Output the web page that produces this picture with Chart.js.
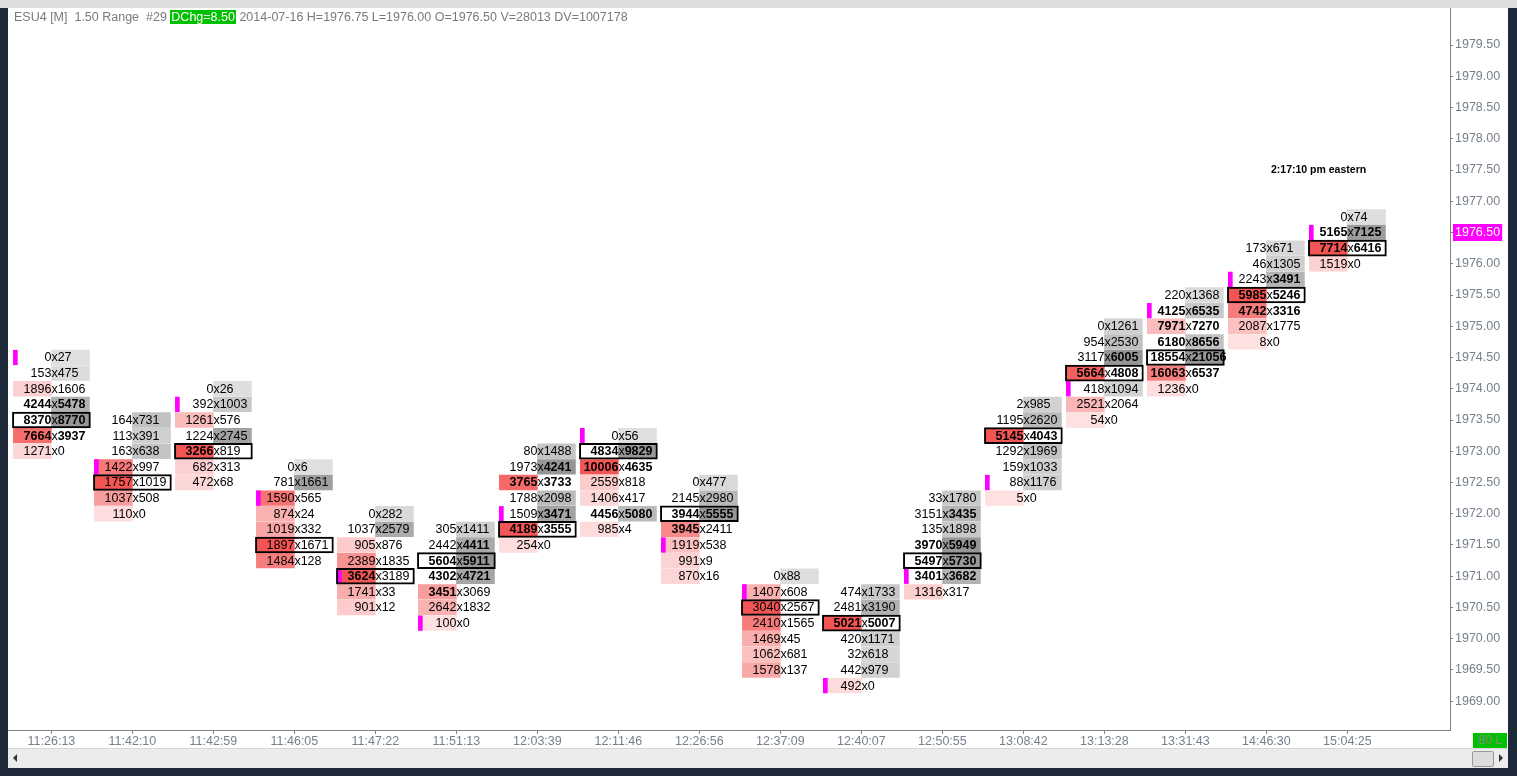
<!DOCTYPE html>
<html>
<head>
<meta charset="utf-8">
<script src="https://cdn.jsdelivr.net/npm/chart.js@4.4.1/dist/chart.umd.min.js"></script>
<style>
  html, body { margin: 0; padding: 0; }
  body { width: 1517px; height: 776px; position: relative; overflow: hidden; background: #1e2a3a; font-family: "Liberation Sans", Arial, sans-serif; }
  #top { position: absolute; left: 0; top: 0; width: 1517px; height: 8px; background: #dedede; }
  #panel { position: absolute; left: 8px; top: 8px; width: 1500px; height: 760px; background: #fff; }
  #wrap { position: absolute; left: 0; top: 0; width: 1500px; height: 740px; }
  #header { position: absolute; left: 6px; top: 2px; font-size: 12.5px; color: #7a7a7a; white-space: pre; line-height: 15px; }
  #header .chg { background: #00c000; color: #fff; padding: 0 1px; }
  #stamp { position: absolute; left: 1263px; top: 155px; font: bold 10.5px "Liberation Sans", Arial, sans-serif; color: #000; }
  #status { position: absolute; left: 1465px; top: 725px; width: 34px; height: 15px; background: #00c000; color: #8a8a8a; font-size: 12px; line-height: 15px; text-align: center; }
  #scroll { position: absolute; left: 0; top: 740px; width: 1500px; height: 20px; background: #ececec; border-top: 1px solid #d6d6d6; box-sizing: border-box; }
  #scroll .la { position: absolute; left: 5px; top: 5px; width: 0; height: 0; border-top: 4px solid transparent; border-bottom: 4px solid transparent; border-right: 4px solid #333; }
  #scroll .ra { position: absolute; right: 5px; top: 5px; width: 0; height: 0; border-top: 4px solid transparent; border-bottom: 4px solid transparent; border-left: 4px solid #333; }
  #scroll .thumb { position: absolute; right: 14px; top: 2px; width: 20px; height: 14px; background: #dcdcdc; border: 1px solid #9a9a9a; border-radius: 2px; }
</style>
</head>
<body>
<div id="top"></div>
<div id="panel">
  <div id="wrap"><canvas id="chart"></canvas></div>
  <div id="header">ESU4 [M]  1.50 Range  #29 <span class="chg">DChg=8.50</span> 2014-07-16 H=1976.75 L=1976.00 O=1976.50 V=28013 DV=1007178</div>
  <div id="stamp">2:17:10 pm eastern</div>
  <div id="status">80 L</div>
  <div id="scroll"><div class="la"></div><div class="thumb"></div><div class="ra"></div></div>
</div>
<script>
// bar times (x axis)
const times = ['11:26:13', '11:42:10', '11:42:59', '11:46:05', '11:47:22', '11:51:13', '12:03:39', '12:11:46', '12:26:56',
    '12:37:09', '12:40:07', '12:50:55', '13:08:42', '13:13:28', '13:31:43', '14:46:30', '15:04:25'];

// highest price of each bar, rows go down by one tick
const tickSize = 0.25;
const topPrices = [1974.50, 1973.50, 1974.00, 1972.75, 1972.00, 1971.75, 1973.00, 1973.25, 1972.50,
    1971.00, 1970.75, 1972.25, 1973.75, 1975.00, 1975.50, 1976.25, 1976.75];
const openPrices = [1974.50, 1972.75, 1973.75, 1972.25, 1971.00, 1970.25, 1972.00, 1973.25, 1971.50,
    1970.75, 1969.25, 1971.00, 1972.50, 1974.00, 1975.25, 1975.75, 1976.50];
const lastPrice = 1976.50;
const maxLabel = 1979.50;

const bids = [
    [0, 153, 1896, 4244, 8370, 7664, 1271],
    [164, 113, 163, 1422, 1757, 1037, 110],
    [0, 392, 1261, 1224, 3266, 682, 472],
    [0, 781, 1590, 874, 1019, 1897, 1484],
    [0, 1037, 905, 2389, 3624, 1741, 901],
    [305, 2442, 5604, 4302, 3451, 2642, 100],
    [80, 1973, 3765, 1788, 1509, 4189, 254],
    [0, 4834, 10006, 2559, 1406, 4456, 985],
    [0, 2145, 3944, 3945, 1919, 991, 870],
    [0, 1407, 3040, 2410, 1469, 1062, 1578],
    [474, 2481, 5021, 420, 32, 442, 492],
    [33, 3151, 135, 3970, 5497, 3401, 1316],
    [2, 1195, 5145, 1292, 159, 88, 5],
    [0, 954, 3117, 5664, 418, 2521, 54],
    [220, 4125, 7971, 6180, 18554, 16063, 1236],
    [173, 46, 2243, 5985, 4742, 2087, 8],
    [0, 5165, 7714, 1519]
];
const asks = [
    [27, 475, 1606, 5478, 8770, 3937, 0],
    [731, 391, 638, 997, 1019, 508, 0],
    [26, 1003, 576, 2745, 819, 313, 68],
    [6, 1661, 565, 24, 332, 1671, 128],
    [282, 2579, 876, 1835, 3189, 33, 12],
    [1411, 4411, 5911, 4721, 3069, 1832, 0],
    [1488, 4241, 3733, 2098, 3471, 3555, 0],
    [56, 9829, 4635, 818, 417, 5080, 4],
    [477, 2980, 5555, 2411, 538, 9, 16],
    [88, 608, 2567, 1565, 45, 681, 137],
    [1733, 3190, 5007, 1171, 618, 979, 0],
    [1780, 3435, 1898, 5949, 5730, 3682, 317],
    [985, 2620, 4043, 1969, 1033, 1176, 0],
    [1261, 2530, 6005, 4808, 1094, 2064, 0],
    [1368, 6535, 7270, 8656, 21056, 6537, 0],
    [671, 1305, 3491, 5246, 3316, 1775, 0],
    [74, 7125, 6416, 0]
];

const AXIS_GREY = '#76808c';
const FONT = '"Liberation Sans", Arial, sans-serif';

function mix(a, b, t) {
    t = Math.max(0, Math.min(1, t));
    return `rgb(${a.map((v, k) => Math.round(v + (b[k] - v) * t)).join(',')})`;
}
const redShade = t => mix([253, 224, 224], [243, 84, 84], Math.pow(t, 1.4));
const greyShade = t => mix([223, 223, 223], [150, 150, 150], t);

// build bar data from the arrays
const bidCells = [], askCells = [], pocCells = [], openMarks = [];
topPrices.forEach((top, i) => {
    const colMax = Math.max(...bids[i], ...asks[i]);
    let poc = 0, pocVol = -1;
    bids[i].forEach((b, j) => {
        const a = asks[i][j];
        const price = top - tickSize * j;
        if (b > a) bidCells.push({ x: i - 0.235, y: [price - 0.117, price + 0.117], t: b / colMax });
        if (a > b) askCells.push({ x: i + 0.235, y: [price - 0.117, price + 0.117], t: a / colMax });
        if (a + b > pocVol) { pocVol = a + b; poc = price; }
    });
    pocCells.push({ x: i, y: [poc - 0.128, poc + 0.128] });
    openMarks.push({ x: i - 0.445, y: [openPrices[i] - 0.117, openPrices[i] + 0.117] });
});

const textPlugin = {
    id: 'cellText',
    afterDatasetsDraw(chart) {
        const { ctx, scales: { x, y } } = chart;
        ctx.save();
        ctx.textBaseline = 'middle';
        ctx.fillStyle = '#000';
        const fontFor = v => (v >= 3200 ? 'bold ' : '') + '12.5px ' + FONT;
        topPrices.forEach((top, i) => {
            const cx = x.getPixelForValue(i);
            bids[i].forEach((b, j) => {
                const a = asks[i][j];
                const py = y.getPixelForValue(top - tickSize * j) + 0.5;
                ctx.textAlign = 'right';
                ctx.font = fontFor(b);
                ctx.fillText(String(b), cx, py);
                ctx.textAlign = 'left';
                ctx.font = '12.5px ' + FONT;
                ctx.fillText('x', cx, py);
                const xw = ctx.measureText('x').width;
                ctx.font = fontFor(a);
                ctx.fillText(String(a), cx + xw, py);
            });
        });
        ctx.restore();
    }
};

const barBase = { grouped: false, borderSkipped: false, borderWidth: 0 };

new Chart(document.getElementById('chart'), {
    type: 'bar',
    data: {
        datasets: [
            { ...barBase, label: 'POC', data: pocCells, barThickness: 78, backgroundColor: 'rgba(0,0,0,0)', borderColor: '#000', borderWidth: 1.3 },
            { ...barBase, label: 'Open', data: openMarks, barThickness: 4, backgroundColor: '#ff00ff' },
            { ...barBase, label: 'Bid', data: bidCells, barThickness: 38, backgroundColor: c => redShade(c.raw ? c.raw.t : 0) },
            { ...barBase, label: 'Ask', data: askCells, barThickness: 38, backgroundColor: c => greyShade(c.raw ? c.raw.t : 0) }
        ]
    },
    options: {
        responsive: true,
        maintainAspectRatio: false,
        animation: false,
        layout: { padding: 0 },
        plugins: { legend: { display: false }, tooltip: { enabled: false } },
        scales: {
            x: {
                type: 'linear',
                offset: false,
                min: -0.536,
                max: 17.267,
                afterBuildTicks: s => { s.ticks = times.map((t, i) => ({ value: i })); },
                afterFit: s => { s.height = 18; s.paddingLeft = 0; s.paddingRight = 0; },
                ticks: { autoSkip: false, maxRotation: 0, padding: 0, color: AXIS_GREY, font: { family: FONT, size: 12.5 }, callback: v => times[v] },
                grid: { drawOnChartArea: false, offset: false, tickLength: 4, color: '#808080' },
                border: { color: '#808080' }
            },
            y: {
                type: 'linear',
                position: 'right',
                min: 1968.54,
                max: 1980.092,
                afterBuildTicks: s => { s.ticks = s.ticks.filter(t => t.value <= maxLabel); },
                afterFit: s => { s.width = 58; s.paddingTop = 0; s.paddingBottom = 0; },
                ticks: {
                    stepSize: 0.5,
                    includeBounds: false,
                    maxTicksLimit: 100,
                    padding: 2,
                    font: { family: FONT, size: 12.5 },
                    color: c => (c.tick && c.tick.value === lastPrice ? '#fff' : AXIS_GREY),
                    showLabelBackdrop: c => !!(c.tick && c.tick.value === lastPrice),
                    backdropColor: '#ff00ff',
                    backdropPadding: { top: 1, bottom: 1, left: 2, right: 2 },
                    callback: v => Number(v).toFixed(2)
                },
                grid: { drawOnChartArea: false, tickLength: 3, color: '#808080' },
                border: { color: '#808080' }
            }
        }
    },
    plugins: [textPlugin]
});
</script>
</body>
</html>
